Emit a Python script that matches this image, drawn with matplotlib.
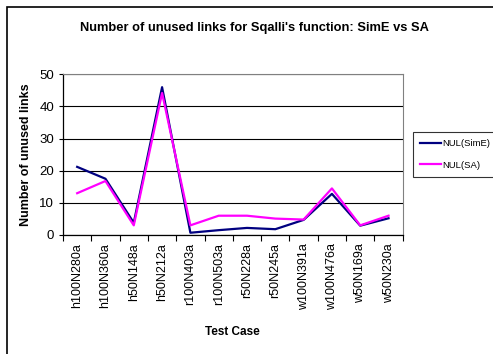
import numpy as np
import matplotlib.pyplot as plt
from matplotlib.patches import Rectangle

plt.rcParams['font.family'] = ['Liberation Sans', 'DejaVu Sans']

cases = ['h100N280a', 'h100N360a', 'h50N148a', 'h50N212a', 'r100N403a', 'r100N503a',
         'r50N228a', 'r50N245a', 'w100N391a', 'w100N476a', 'w50N169a', 'w50N230a']
nul_sime = [21.2, 17.5, 3.8, 46.0, 0.7, 1.5, 2.2, 1.8, 4.7, 12.8, 2.9, 5.2]
nul_sa = [13.0, 16.8, 3.0, 44.2, 3.0, 6.0, 6.0, 5.1, 4.8, 14.5, 3.0, 6.0]

fig = plt.figure(figsize=(4.93, 3.54), dpi=100)
ax = fig.add_axes([0.1278, 0.3362, 0.689, 0.4538])

# outer chart frame (runs off the right and bottom edges)
fig.patches.append(Rectangle((7 / 493, -0.1), 1.2, 1.1 - 7 / 354, transform=fig.transFigure,
                             fill=False, edgecolor='black', linewidth=1.2))

x = np.arange(len(cases))
ax.plot(x, nul_sime, color='#000080', linewidth=1.6, label='NUL(SimE)')
ax.plot(x, nul_sa, color='#ff00ff', linewidth=1.6, label='NUL(SA)')

ax.set_xlim(-0.5, len(cases) - 0.5)
ax.set_ylim(0, 50)
ax.set_yticks([0, 10, 20, 30, 40, 50])
ax.yaxis.grid(True, color='black', linewidth=0.8)
ax.set_axisbelow(True)

ax.set_xticks(x)
ax.set_xticklabels(cases, rotation=90, fontsize=9)
ax.tick_params(axis='x', length=0, pad=6)
ax.set_xticks(np.arange(-0.5, len(cases)), minor=True)
ax.tick_params(axis='x', which='minor', length=4, direction='out', width=0.8)
ax.tick_params(axis='y', labelsize=9.5, length=3, width=0.8)

for side in ['top', 'right']:
    ax.spines[side].set_color('#808080')
for side in ['left', 'bottom']:
    ax.spines[side].set_linewidth(0.9)

ax.set_xlabel('Test Case', fontsize=8.5, fontweight='bold', labelpad=11)
ax.set_ylabel('Number of unused links', fontsize=9, fontweight='bold', labelpad=5)
fig.text(0.517, 0.922, "Number of unused links for Sqalli's function: SimE vs SA",
         ha='center', va='center', fontsize=9.3, fontweight='bold')

leg = ax.legend(loc='upper left', bbox_to_anchor=(412.7 / 493, 1 - 131.7 / 354),
                bbox_transform=fig.transFigure, fontsize=6.8, frameon=True,
                fancybox=False, borderpad=0.8, handlelength=2.2, handletextpad=0.15,
                labelspacing=1.3, borderaxespad=0)
leg.get_frame().set_edgecolor('black')
leg.get_frame().set_linewidth(0.8)

fig.savefig('out.png', dpi=100)
